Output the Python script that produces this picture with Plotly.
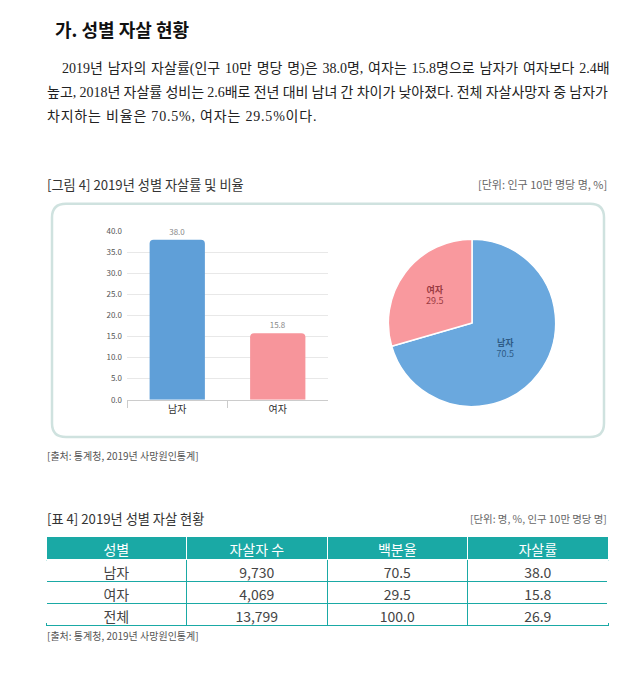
import plotly.graph_objects as go

W, H = 644, 698

# ---- data ----
genders = ["남자", "여자"]
rates = [38.0, 15.8]
shares = [70.5, 29.5]

table_rows = ["남자", "여자", "전체"]
table_counts = [9730, 4069, 13799]
table_pct = [70.5, 29.5, 100.0]
table_rate = [38.0, 15.8, 26.9]
table_header = ["성별", "자살자 수", "백분율", "자살률"]

para_lines = [
    "2019년 남자의 자살률(인구 10만 명당 명)은 38.0명, 여자는 15.8명으로 남자가 여자보다 2.4배",
    "높고, 2018년 자살률 성비는 2.6배로 전년 대비 남녀 간 차이가 낮아졌다. 전체 자살사망자 중 남자가",
    "차지하는 비율은 70.5%, 여자는 29.5%이다.",
]


def px(x):
    return x / W


def py(y):
    return 1 - y / H


KR = "Noto Sans CJK KR"
SERIF = "Liberation Serif, Noto Sans CJK KR"
BLUE_BAR = "#5f9fd8"
PINK_BAR = "#f7959b"
BLUE_PIE = "#6aa8de"
PINK_PIE = "#f9999e"
TEAL = "#1aa9a5"

fig = go.Figure()

# bar chart
fig.add_trace(go.Bar(
    x=genders, y=rates,
    marker=dict(color=[BLUE_BAR, PINK_BAR], cornerradius=4, line=dict(width=0)),
    width=0.55,
    text=rates, texttemplate="%{y:.1f}", textposition="outside",
    textfont=dict(family=KR, size=8, color="#888"),
    cliponaxis=False, xaxis="x", yaxis="y", showlegend=False,
))

# pie chart
fig.add_trace(go.Pie(
    labels=genders, values=shares, sort=False, direction="clockwise", rotation=0,
    marker=dict(colors=[BLUE_PIE, PINK_PIE], line=dict(color="white", width=1.5)),
    texttemplate="<b>%{label}</b><br>%{value:.1f}", textposition="inside",
    insidetextorientation="horizontal",
    textfont=dict(family=KR, size=9, color=["#2e5b86", "#9a3a42"]),
    domain=dict(x=[px(387), px(557)], y=[py(407), py(237)]),
    showlegend=False, hoverinfo="skip",
))

# table
fig.add_trace(go.Table(
    domain=dict(x=[px(46), px(608)], y=[py(640), py(539)]),
    columnwidth=[1, 1, 1, 1],
    header=dict(values=table_header, fill_color=TEAL, line=dict(color="white", width=1),
                font=dict(family=KR, size=14, color="white"), height=23, align="center"),
    cells=dict(values=[table_rows,
                       [f"{v:,}" for v in table_counts],
                       [f"{v:.1f}" for v in table_pct],
                       [f"{v:.1f}" for v in table_rate]],
               fill_color="white", line=dict(color=TEAL, width=1),
               font=dict(family=KR, size=14, color="#444"), height=22, align="center"),
))

annotations = []


def txt(x, y, s, size, color="#222", family=KR, anchor="left"):
    annotations.append(dict(x=px(x), y=py(y), xref="paper", yref="paper", text=s,
                            showarrow=False, xanchor=anchor, yanchor="middle",
                            font=dict(family=family, size=size, color=color)))


def spaced(s, word, letter):
    return f"<span style=\"word-spacing:{word}px;letter-spacing:{letter}px\">{s}</span>"


txt(53, 23, "<b>가. 성별 자살 현황</b>", 18, "#111")
txt(60, 64, spaced(para_lines[0], 1.3, 0), 14, "#222", SERIF)
txt(45, 88, spaced(para_lines[1], -0.3, 0), 14, "#222", SERIF)
txt(45, 112, spaced(para_lines[2], 0, 0.8), 14, "#222", SERIF)

txt(45, 181, "[그림 4] 2019년 성별 자살률 및 비율", 13.2, "#333")
txt(609, 181, "[단위: 인구 10만 명당 명, %]", 11, "#666", anchor="right")
txt(45, 457, "[출처: 통계청, 2019년 사망원인통계]", 10, "#555")

txt(45, 521, "[표 4] 2019년 성별 자살 현황", 13.2, "#333")
txt(609, 521, "[단위: 명, %, 인구 10만 명당 명]", 10.4, "#666", anchor="right")
txt(45, 640, "[출처: 통계청, 2019년 사망원인통계]", 10, "#555")

# rounded frame
x0, x1, y0, y1, r = 52, 604, 201, 438, 14
rx, ry = r / W, r / H
X0, X1, Y0, Y1 = px(x0), px(x1), py(y0), py(y1)
path = (f"M {X0+rx},{Y0} L {X1-rx},{Y0} Q {X1},{Y0} {X1},{Y0-ry} "
        f"L {X1},{Y1+ry} Q {X1},{Y1} {X1-rx},{Y1} L {X0+rx},{Y1} "
        f"Q {X0},{Y1} {X0},{Y1+ry} L {X0},{Y0-ry} Q {X0},{Y0} {X0+rx},{Y0} Z")

shapes = [dict(type="path", path=path, xref="paper", yref="paper",
               line=dict(color="#cfe2df", width=2.5), layer="below")]
# hide outer vertical borders of the table body
for xe in (46, 608):
    shapes.append(dict(type="line", xref="paper", yref="paper", x0=px(xe), x1=px(xe),
                       y0=py(563), y1=py(627), line=dict(color="white", width=2),
                       layer="above"))

fig.update_layout(
    width=W, height=H, margin=dict(l=0, r=0, t=0, b=0),
    paper_bgcolor="white", plot_bgcolor="white",
    annotations=annotations, shapes=shapes,
    xaxis=dict(domain=[px(127), px(328)], anchor="y", tickson="boundaries",
               ticks="outside", ticklen=7, tickcolor="#cccccc", showline=True,
               linecolor="#cccccc", showgrid=False,
               tickfont=dict(family=KR, size=10, color="#333"), fixedrange=True),
    yaxis=dict(domain=[py(400), py(229)], anchor="x", range=[0, 40], dtick=5,
               tickformat=".1f", showgrid=True, gridcolor="#e8e8e8", zeroline=False,
               showline=False, tickfont=dict(family=KR, size=8, color="#555"),
               ticklabelstandoff=4, fixedrange=True),
)

fig.write_html("out.html")
